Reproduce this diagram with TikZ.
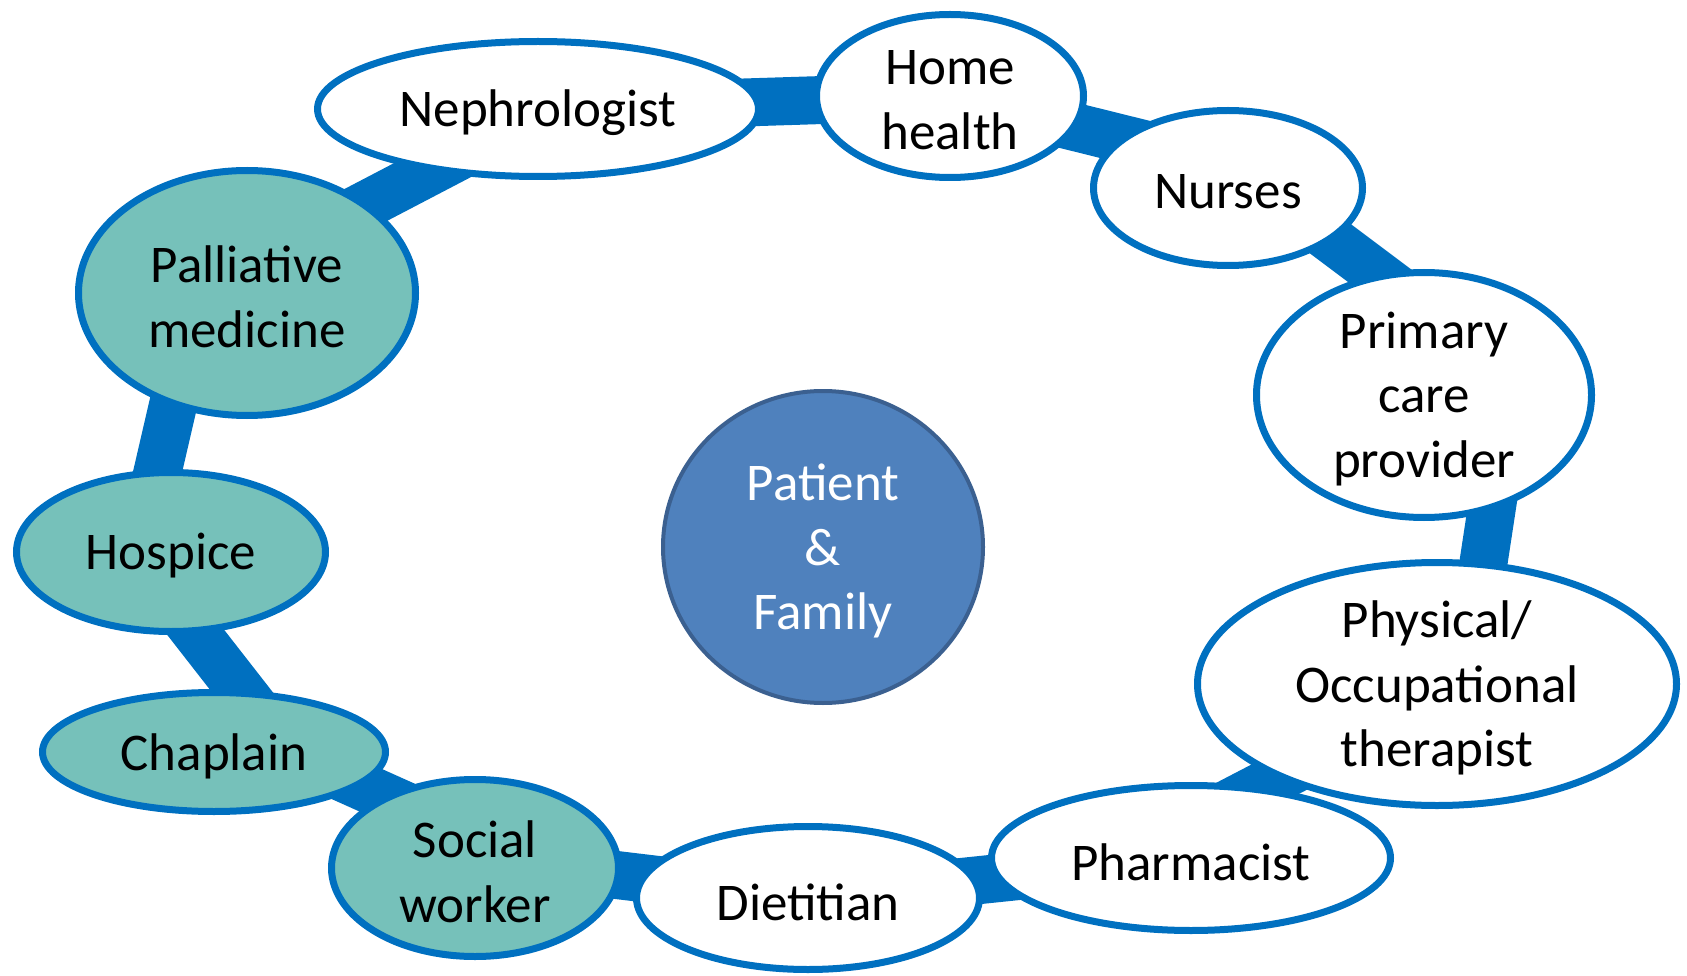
\documentclass[tikz,border=0pt]{standalone}
\usepackage{fontspec}
\setmainfont{Carlito}
\usetikzlibrary{shapes.geometric,backgrounds}
\definecolor{ringblue}{HTML}{0070C0}
\definecolor{careteal}{HTML}{76C1BA}
\definecolor{pfill}{HTML}{4F81BD}
\definecolor{pline}{HTML}{3B6090}
\begin{document}
\begin{tikzpicture}[x=1pt,y=1pt,
  role/.style={ellipse, draw=ringblue, line width=7pt, inner sep=0pt},
  plain/.style={role, fill=white},
  team/.style={role, fill=careteal},
  txt/.style={align=center, inner sep=0pt, yshift=-4pt,
              font=\fontsize{53}{64.5}\selectfont},
  centre/.style={ellipse, draw=pline, line width=4pt, fill=pfill, inner sep=0pt},
  link/.style={draw=ringblue, line width=48pt}]
\useasboundingbox (0,0) rectangle (1687,-976);

\node[plain, minimum width=441pt, minimum height=135pt, label={[txt]center:Nephrologist}] (neph) at (538,-109) {};
\node[plain, minimum width=267pt, minimum height=163pt, label={[txt]center:{Home\\health}}] (home) at (950,-96) {};
\node[plain, minimum width=269pt, minimum height=155pt, label={[txt]center:Nurses}] (nurses) at (1228,-188) {};
\node[plain, minimum width=335pt, minimum height=245pt, label={[txt]center:{Primary\\care\\provider}}] (primary) at (1424,-395) {};
\node[plain, minimum width=479pt, minimum height=243pt, label={[txt]center:{Physical/\\Occupational\\therapist}}] (physical) at (1437,-684) {};
\node[plain, minimum width=399pt, minimum height=145pt, label={[txt]center:Pharmacist}] (pharm) at (1191,-858) {};
\node[plain, minimum width=343pt, minimum height=143pt, label={[txt]center:Dietitian}] (diet) at (808,-898) {};
\node[team, minimum width=287pt, minimum height=177pt, label={[txt]center:{Social\\worker}}] (social) at (475,-868) {};
\node[team, minimum width=343pt, minimum height=119pt, label={[txt]center:Chaplain}] (chaplain) at (214,-752) {};
\node[team, minimum width=309pt, minimum height=159pt, label={[txt]center:Hospice}] (hospice) at (171,-552) {};
\node[team, minimum width=337pt, minimum height=245pt, label={[txt]center:{Palliative\\medicine}}] (palliative) at (247,-293) {};
\node[centre, minimum width=320pt, minimum height=312pt, label={[txt,text=white]center:{Patient\\\&\\Family}}] (patient) at (823,-547) {};

\begin{scope}[on background layer]
  \draw[link] (neph.center) -- (home.center);
  \draw[link] (home.center) -- ([yshift=23pt]nurses.center);
  \draw[link] ([yshift=26pt]nurses.center) -- ([yshift=86pt]primary.center);
  \draw[link] ([xshift=85pt]primary.center) -- ([xshift=28pt]physical.center);
  \draw[link] ([yshift=-11pt]physical.center) -- ([yshift=35pt]pharm.center);
  \draw[link] (pharm.center) -- (diet.center);
  \draw[link] (diet.center) -- ([yshift=10pt]social.center);
  \draw[link] ([yshift=31pt]social.center) -- ([yshift=32pt]chaplain.center);
  \draw[link] ([xshift=75pt]chaplain.center) -- ([xshift=-38pt]hospice.center);
  \draw[link] ([xshift=-32pt]hospice.center) -- ([xshift=-48pt]palliative.center);
  \draw[link] ([yshift=26pt]palliative.center) -- ([yshift=-6pt]neph.center);
\end{scope}
\end{tikzpicture}
\end{document}
